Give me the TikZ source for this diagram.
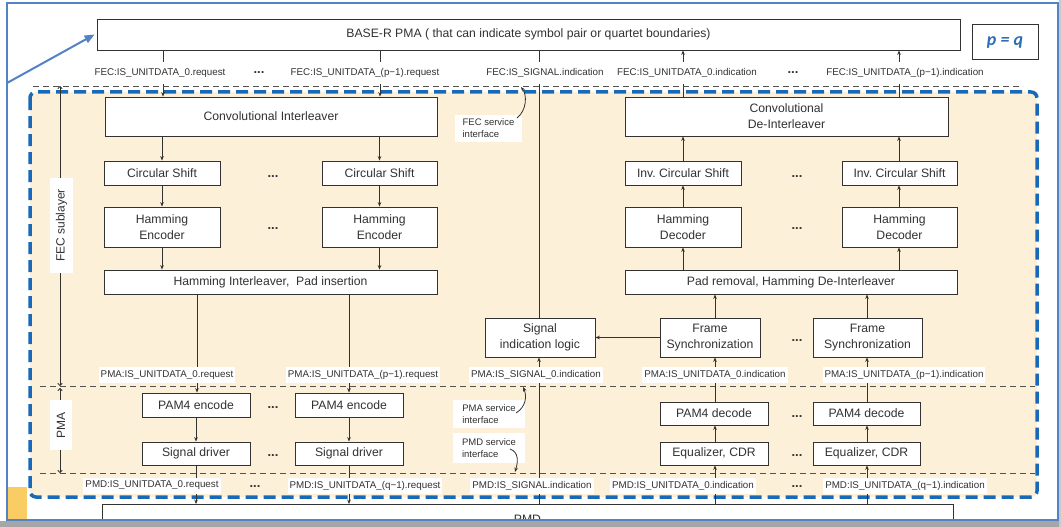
\documentclass[tikz,border=0pt]{standalone}
\usepackage{fontspec}
\setmainfont{Liberation Sans}
\newfontfamily\calfont{Carlito}
\usetikzlibrary{arrows.meta,calc}
\definecolor{beige}{RGB}{253,240,216}
\definecolor{framebl}{RGB}{84,130,200}
\definecolor{dashbl}{RGB}{25,105,185}
\definecolor{ink}{RGB}{50,50,50}
\definecolor{pqblue}{RGB}{46,110,180}
\definecolor{gold}{RGB}{250,205,100}
\definecolor{stripgray}{RGB}{166,166,166}
\begin{document}
\begin{tikzpicture}[x=1pt,y=-1pt,
 blk/.style={draw=ink, line width=0.8pt, fill=white, text=ink, font=\fontsize{12.2}{16}\selectfont, align=center, inner sep=0pt},
 lbl/.style={fill=white, text=ink, font=\fontsize{9.8}{11}\selectfont, inner sep=2pt, minimum height=16pt},
 toplbl/.style={lbl, minimum height=22pt},
 ifc/.style={fill=white, text=ink, font=\fontsize{9.5}{12}\selectfont, align=left, inner sep=2pt},
 dots/.style={text=ink, font=\bfseries\fontsize{13}{13}\selectfont, inner sep=0pt},
 arr/.style={draw=ink, line width=0.8pt, -{Stealth[length=4.5pt,width=3.6pt]}},
 ln/.style={draw=ink, line width=0.8pt},
 dbl/.style={draw=ink, line width=0.8pt, {To[length=3pt,width=5pt]}-{To[length=3pt,width=5pt]}},
 sep/.style={draw=ink!85, line width=0.8pt, dash pattern=on 6pt off 4pt},
]
\useasboundingbox (0,0) rectangle (1061,527);
\fill[white] (0,0) rectangle (1061,527);
\fill[gold] (8,487) rectangle (27,520);
% beige area and separators
\fill[beige, rounded corners=6pt] (30,92) rectangle (1037,497);
\draw[sep] (40,386) -- (1035,386);
\draw[sep] (40,473) -- (1035,473);

% top block
\node[blk, minimum width=863pt, minimum height=31pt] (base) at (528.5,34.5) {BASE-R PMA ( that can indicate symbol pair or quartet boundaries)};
\node[draw=ink, line width=1pt, minimum width=66pt, minimum height=35pt, inner sep=0pt, text=pqblue, font=\calfont\bfseries\itshape\fontsize{18}{20}\selectfont] (pq) at (1005,42.5) {p = q};

% TX blocks
\node[blk, minimum width=332pt, minimum height=39pt] (ci) at (271,116.5) {Convolutional Interleaver};
\node[blk, minimum width=116pt, minimum height=24pt] (cs1) at (162,173) {Circular Shift};
\node[blk, minimum width=115pt, minimum height=24pt] (cs2) at (379.5,173) {Circular Shift};
\node[blk, minimum width=116pt, minimum height=40pt] (he1) at (162,227) {Hamming\\Encoder};
\node[blk, minimum width=115pt, minimum height=40pt] (he2) at (379.5,227) {Hamming\\Encoder};
\node[blk, minimum width=333pt, minimum height=24pt] (hi) at (270.5,282) {Hamming Interleaver,\ \ Pad insertion};
\node[blk, minimum width=108pt, minimum height=24pt] (pe1) at (196,405) {PAM4 encode};
\node[blk, minimum width=108pt, minimum height=24pt] (pe2) at (349,405) {PAM4 encode};
\node[blk, minimum width=108pt, minimum height=23pt] (sd1) at (196,453.5) {Signal driver};
\node[blk, minimum width=108pt, minimum height=23pt] (sd2) at (349,453.5) {Signal driver};

% RX blocks
\node[blk, minimum width=323pt, minimum height=39pt] (cdi) at (786.5,116.5) {Convolutional\\De-Interleaver};
\node[blk, minimum width=116pt, minimum height=24pt] (ics1) at (683,173) {Inv.\ Circular Shift};
\node[blk, minimum width=115pt, minimum height=24pt] (ics2) at (899.5,173) {Inv.\ Circular Shift};
\node[blk, minimum width=116pt, minimum height=40pt] (hd1) at (683,227) {Hamming\\Decoder};
\node[blk, minimum width=115pt, minimum height=40pt] (hd2) at (899.5,227) {Hamming\\Decoder};
\node[blk, minimum width=332pt, minimum height=24pt] (pdi) at (791,282) {Pad removal, Hamming De-Interleaver};
\node[blk, minimum width=110pt, minimum height=39pt] (sil) at (540,337.5) {Signal\\indication logic};
\node[blk, minimum width=100pt, minimum height=39pt] (fs1) at (710,337.5) {Frame\\Synchronization};
\node[blk, minimum width=109pt, minimum height=39pt] (fs2) at (867.5,337.5) {Frame\\Synchronization};
\node[blk, minimum width=108pt, minimum height=23pt] (pd1) at (714,413.5) {PAM4 decode};
\node[blk, minimum width=107pt, minimum height=23pt] (pd2) at (866.5,413.5) {PAM4 decode};
\node[blk, minimum width=108pt, minimum height=23pt] (eq1) at (714,453.5) {Equalizer, CDR};
\node[blk, minimum width=107pt, minimum height=23pt] (eq2) at (866.5,453.5) {Equalizer, CDR};

% PMD block (cut by the frame, as in the screenshot)
\node[blk, minimum width=851pt, minimum height=29pt, anchor=north] (pmd) at (527.5,504) {PMD};

% blue dashed boundary
\draw[dashbl, line width=3.5pt, dash pattern=on 12pt off 6pt, rounded corners=6pt] (30,92) rectangle (1037,497);

% lane coordinates
\coordinate (tx0) at (163,0);
\coordinate (tx1) at (380,0);
\coordinate (ta) at (197,0);
\coordinate (tb) at (349,0);
\coordinate (ra) at (715,0);
\coordinate (rb) at (867,0);
\coordinate (rc) at (683,0);
\coordinate (rd) at (899,0);
\coordinate (sg) at (539,0);

% TX connectors
\draw[arr] (base.south -| tx0) -- (ci.north -| tx0);
\draw[arr] (base.south -| tx1) -- (ci.north -| tx1);
\draw[arr] (ci.south -| cs1) -- (cs1.north);
\draw[arr] (ci.south -| cs2) -- (cs2.north);
\draw[arr] (cs1.south) -- (he1.north);
\draw[arr] (cs2.south) -- (he2.north);
\draw[arr] (he1.south) -- (hi.north -| he1);
\draw[arr] (he2.south) -- (hi.north -| he2);
\draw[arr] (hi.south -| ta) -- (pe1.north -| ta);
\draw[arr] (hi.south -| tb) -- (pe2.north -| tb);
\draw[arr] (pe1.south) -- (sd1.north);
\draw[arr] (pe2.south) -- (sd2.north);
\draw[arr] (sd1.south) -- (pmd.north -| sd1);
\draw[arr] (sd2.south) -- (pmd.north -| sd2);

% RX connectors
\draw[arr] (pmd.north -| ra) -- (eq1.south -| ra);
\draw[arr] (eq1.north -| ra) -- (pd1.south -| ra);
\draw[arr] (pd1.north -| ra) -- (fs1.south -| ra);
\draw[arr] (fs1.north -| ra) -- (pdi.south -| ra);
\draw[arr] (pmd.north -| rb) -- (eq2.south -| rb);
\draw[arr] (eq2.north -| rb) -- (pd2.south -| rb);
\draw[arr] (pd2.north -| rb) -- (fs2.south -| rb);
\draw[arr] (fs2.north -| rb) -- (pdi.south -| rb);
\draw[arr] (pdi.north -| rc) -- (hd1.south -| rc);
\draw[arr] (hd1.north -| rc) -- (ics1.south -| rc);
\draw[arr] (ics1.north -| rc) -- (cdi.south -| rc);
\draw[arr] (cdi.north -| rc) -- (base.south -| rc);
\draw[arr] (pdi.north -| rd) -- (hd2.south -| rd);
\draw[arr] (hd2.north -| rd) -- (ics2.south -| rd);
\draw[arr] (ics2.north -| rd) -- (cdi.south -| rd);
\draw[arr] (cdi.north -| rd) -- (base.south -| rd);

% signal path
\draw[arr] (pmd.north -| sg) -- (sil.south -| sg);
\draw[ln] (sil.north -| sg) -- (base.south -| sg);
\draw[arr] (fs1.west) -- (fs1.west -| sil.east);

% layer arrows
\coordinate (fa) at (60,86);
\coordinate (fb) at (60,386);
\coordinate (pa) at (60,388);
\coordinate (pb) at (60,473);
\draw[dbl] (fa) -- (fb);
\draw[dbl] (pa) -- (pb);
\node[fill=white, text=ink, rotate=90, font=\fontsize{12}{14}\selectfont, minimum width=95pt, minimum height=23pt, inner sep=0pt] (fecl) at (61.5,225.5) {FEC sublayer};
\node[fill=white, text=ink, rotate=90, font=\fontsize{12}{14}\selectfont, minimum width=50pt, minimum height=22pt, inner sep=0pt] (pmal) at (61,425) {PMA};

% top labels
\node[toplbl] (lfr0) at (160,73) {FEC:IS\_UNITDATA\_0.request};
\node[dots] (d1) at (259,73) {...};
\node[toplbl] (lfr1) at (365,73) {FEC:IS\_UNITDATA\_(p−1).request};
\node[toplbl] (lfs) at (545,73) {FEC:IS\_SIGNAL.indication};
\node[toplbl] (lfi0) at (687,73) {FEC:IS\_UNITDATA\_0.indication};
\node[dots] (d2) at (793,73) {...};
\node[toplbl] (lfi1) at (905,73) {FEC:IS\_UNITDATA\_(p−1).indication};
\draw[sep] (33,86) -- (1023,86);

% PMA labels
\node[lbl] (lpr0) at (167,375) {PMA:IS\_UNITDATA\_0.request};
\node[lbl] (lpr1) at (363,375) {PMA:IS\_UNITDATA\_(p−1).request};
\node[lbl] (lps) at (536,375) {PMA:IS\_SIGNAL\_0.indication};
\node[lbl] (lpi0) at (715,375) {PMA:IS\_UNITDATA\_0.indication};
\node[lbl] (lpi1) at (904,375) {PMA:IS\_UNITDATA\_(p−1).indication};

% PMD labels
\node[lbl] (ldr0) at (152,485.5) {PMD:IS\_UNITDATA\_0.request};
\node[dots] (d3) at (255,487) {...};
\node[lbl] (ldr1) at (365,485.5) {PMD:IS\_UNITDATA\_(q−1).request};
\node[lbl] (lds) at (532,485.5) {PMD:IS\_SIGNAL.indication};
\node[lbl] (ldi0) at (683,485.5) {PMD:IS\_UNITDATA\_0.indication};
\node[dots] (d4) at (797,487) {...};
\node[lbl] (ldi1) at (905,485.5) {PMD:IS\_UNITDATA\_(q−1).indication};

% block dots
\node[dots] (d5) at (273,177) {...};
\node[dots] (d6) at (273,229) {...};
\node[dots] (d7) at (797,177) {...};
\node[dots] (d8) at (797,229) {...};
\node[dots] (d9) at (797,341) {...};
\node[dots] (d10) at (273,408) {...};
\node[dots] (d11) at (273,456) {...};
\node[dots] (d12) at (797,417) {...};
\node[dots] (d13) at (797,456) {...};

% interface labels
\node[ifc, minimum width=67pt, minimum height=27pt] (fsi) at (488.5,128.5) {FEC service\\interface};
\node[ifc, minimum width=72pt, minimum height=28pt] (pmai) at (489,414) {PMA service\\interface};
\node[ifc, minimum width=72pt, minimum height=30pt] (pmdi) at (489,448) {PMD service\\interface};
\coordinate (c1a) at (517,118);
\coordinate (c1b) at (521,87);
\coordinate (c2a) at (516,413);
\coordinate (c2b) at (523,387);
\coordinate (c3a) at (510,449);
\coordinate (c3b) at (515,472);
\draw[arr] (c1a) .. controls (527,110) and (527,95) .. (c1b);
\draw[arr] (c2a) .. controls (526,407) and (527,396) .. (c2b);
\draw[arr] (c3a) .. controls (519,452) and (518,462) .. (c3b);

% frame and pointer
\fill[stripgray] (0,521) rectangle (1061,527);
\fill[stripgray!60] (1059,0) rectangle (1061,527);
\draw[framebl, line width=2.5pt] (7,3) rectangle (1058,520);
\coordinate (ptr) at (7,83);
\draw[framebl, line width=2pt, -{Triangle[length=10pt,width=8pt]}] (ptr) -- ($(base.west)+(-2,0)$);
\end{tikzpicture}
\end{document}
